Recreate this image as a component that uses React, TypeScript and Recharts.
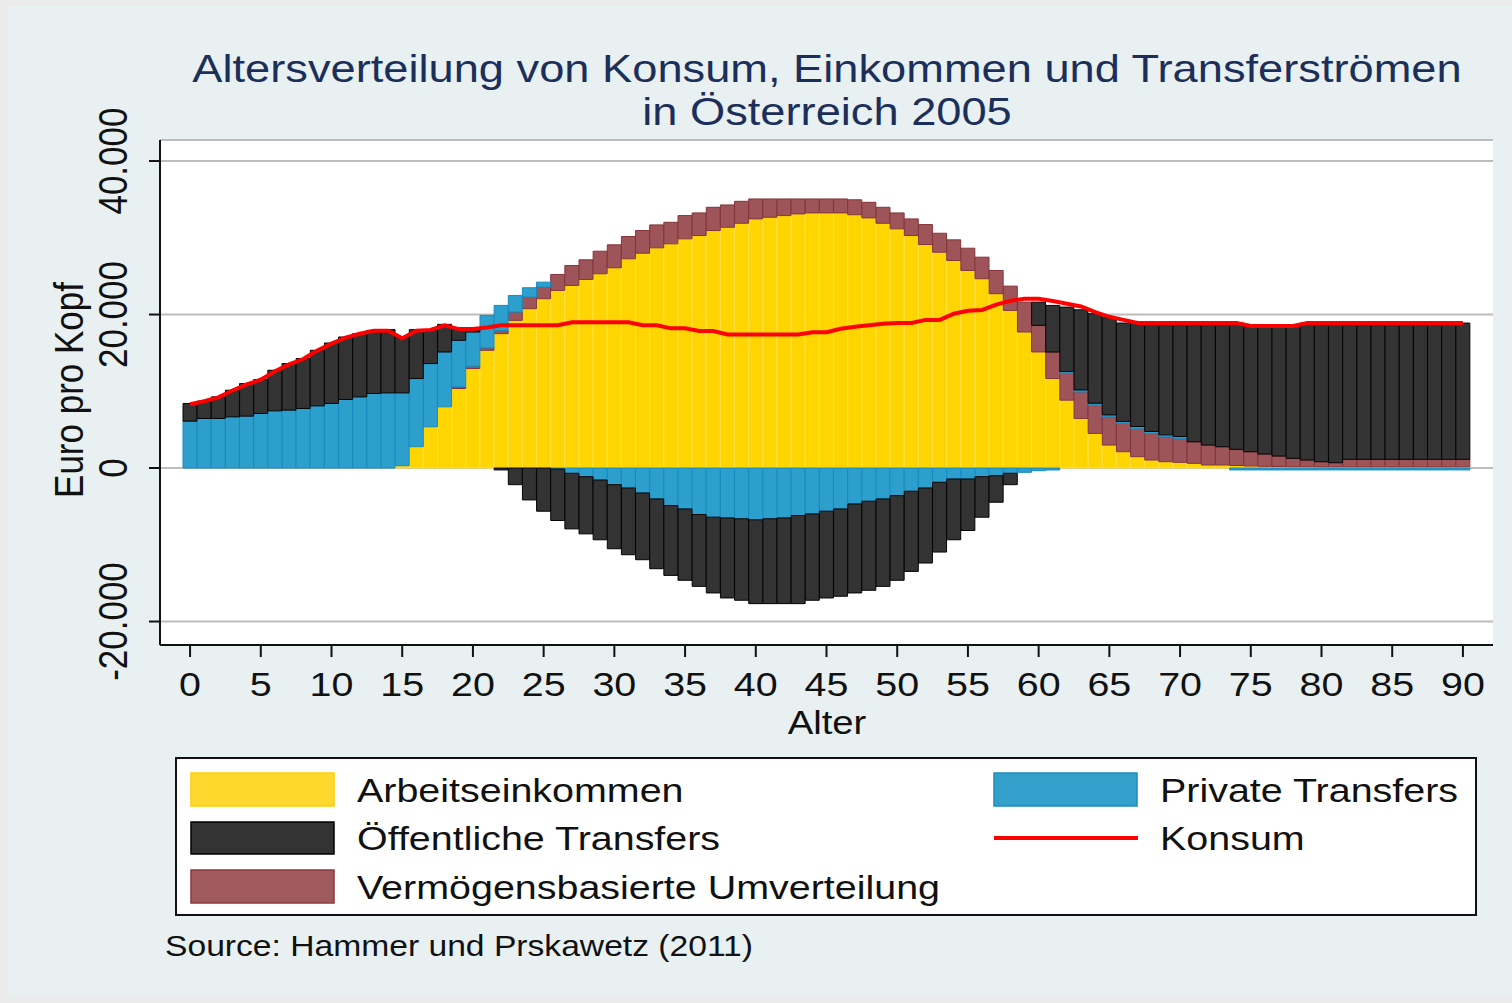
import { ComposedChart, Bar, Line, XAxis, YAxis, CartesianGrid } from 'recharts'

// Alter 0 bis 90
const ages = [
  0, 1, 2, 3, 4, 5, 6, 7, 8, 9, 10, 11, 12, 13, 14, 15, 16, 17, 18, 19, 20,
  21, 22, 23, 24, 25, 26, 27, 28, 29, 30, 31, 32, 33, 34, 35, 36, 37, 38, 39, 40,
  41, 42, 43, 44, 45, 46, 47, 48, 49, 50, 51, 52, 53, 54, 55, 56, 57, 58, 59, 60,
  61, 62, 63, 64, 65, 66, 67, 68, 69, 70, 71, 72, 73, 74, 75, 76, 77, 78, 79, 80,
  81, 82, 83, 84, 85, 86, 87, 88, 89, 90,
]

const arbeitseinkommen = [
  0, 0, 0, 0, 0, 0, 0, 0, 0, 0, 0, 0, 0, 0, 0, 300, 2770, 5370, 7970, 10360, 12960,
  15340, 17510, 19240, 20760, 22060, 23140, 23790, 24570, 25310, 26090, 27260, 27990, 28690, 29210, 29860,
  30290, 30940, 31370, 31890, 32460, 32670, 32890, 33110, 33240, 33240, 33240, 33000, 32590, 31890, 31160,
  30290, 29120, 28120, 27040, 25740, 24660, 22710, 20540, 17720, 15120, 11660, 8840, 6460, 4510, 2990,
  2120, 1470, 1040, 820, 740, 610, 390, 390, 330, 260, 220, 200, 180, 170, 150,
  150, 150, 150, 150, 150, 150, 150, 150, 150, 150,
]

const vermoegensbasiert = [
  0, 0, 0, 0, 0, 0, 0, 0, 0, 0, 0, 0, 0, 0, 0, 0, 0, 0, 0, 200, 300,
  300, 400, 1080, 1510, 1510, 2080, 2600, 2560, 2940, 2990, 2900, 2950, 2990, 2810, 3030,
  2950, 3030, 2910, 2860, 2600, 2390, 2170, 1950, 1820, 1820, 1820, 1950, 2030, 2080, 2080,
  2170, 2600, 2470, 2690, 2900, 2810, 3030, 3160, 3900, 3470, 3460, 3470, 3460, 3680, 3680,
  3690, 3690, 3470, 3250, 3120, 2810, 2600, 2380, 2100, 1860, 1600, 1360, 1080, 870, 670,
  540, 980, 980, 980, 980, 980, 980, 980, 980, 980,
]

const privateTransfers = [
  6110, 6460, 6460, 6670, 6760, 7110, 7450, 7540, 7760, 8100, 8410, 8930, 9270, 9710, 9790, 9490, 8890, 8240, 7150, 6080, 4460,
  4250, 3280, 2170, 1220, 650, -130, -690, -1130, -1560, -2170, -2600, -3250, -4030, -4890, -5330,
  -6060, -6410, -6500, -6620, -6750, -6620, -6500, -6190, -5980, -5630, -5330, -4680, -4330, -4030, -3590,
  -3030, -2600, -1860, -1430, -1430, -1130, -1000, -690, -560, -350, -260, 250, 250, 250, 250,
  250, 250, 250, 250, 250, 0, 0, 0, -250, -250, -250, -250, -250, -250, -250,
  -250, -250, -250, -250, -250, -250, -250, -250, -250, -250,
]

const oeffentlicheTransfers = [
  2300, 2250, 2810, 3470, 4240, 4420, 5290, 6070, 6500, 7240, 7880, 8140, 8240, 8230, 8240, 7280, 6370, 4420, 3600, 1490, 310,
  0, -250, -2170, -4160, -5630, -6710, -7240, -7450, -7790, -8350, -8700, -8700, -9090, -9100, -9300,
  -9360, -9870, -10430, -10610, -10920, -11050, -11170, -11480, -11250, -11300, -11380, -11600, -11600, -11390, -11040,
  -10440, -9780, -9090, -7920, -6710, -5280, -3460, -1480, 0, 3030, 6070, 8410, 10450, 11670, 12670,
  12830, 13480, 14130, 14570, 14780, 15470, 15900, 16120, 16460, 16380, 16680, 16940, 17240, 17850, 18070,
  18200, 17760, 17760, 17760, 17760, 17760, 17760, 17760, 17760, 17760,
]

const konsum = [
  8300, 8700, 9200, 10100, 10900, 11500, 12600, 13500, 14200, 15300, 16200, 17000, 17500, 17900, 17900, 16900, 17900, 18000, 18600, 18100, 18100,
  18300, 18600, 18600, 18600, 18600, 18600, 19000, 19000, 19000, 19000, 19000, 18600, 18600, 18200, 18200,
  17850, 17850, 17400, 17400, 17400, 17400, 17400, 17400, 17700, 17700, 18150, 18400, 18600, 18800, 18900,
  18900, 19300, 19300, 20100, 20500, 20600, 21300, 21800, 22050, 22050, 21750, 21400, 21050, 20300, 19700,
  19300, 18900, 18900, 18900, 18900, 18900, 18900, 18900, 18900, 18500, 18500, 18500, 18500, 18900, 18900,
  18900, 18900, 18900, 18900, 18900, 18900, 18900, 18900, 18900, 18900,
]

const yTicks = [-20000, 0, 20000, 40000]

const data = ages.map((age, i) => ({
  age,
  arbeit: arbeitseinkommen[i],
  verm: vermoegensbasiert[i],
  privat: privateTransfers[i],
  oeff: oeffentlicheTransfers[i],
  konsum: konsum[i],
}))

const FONT = '"Liberation Sans", Arial, Helvetica, sans-serif'
const SX = 1.16

const fmt = (v: number) => {
  const s = Math.abs(v).toString().replace(/\B(?=(\d{3})+(?!\d))/g, '.')
  return v < 0 ? '-' + s : s
}

function XTick(props: any) {
  const { x, payload } = props
  return (
    <text transform={`translate(${x},696) scale(${SX},1)`} textAnchor="middle" fontSize={34} fill="#111" fontFamily={FONT}>
      {payload.value}
    </text>
  )
}

function YTick(props: any) {
  const { y, payload } = props
  return (
    <text transform={`translate(127,${y}) scale(${SX},1) rotate(-90)`} textAnchor="middle" fontSize={35} fill="#111" fontFamily={FONT}>
      {fmt(payload.value)}
    </text>
  )
}

function T({ x, y, size, anchor = 'start', fill = '#111', rot = 0, children }: any) {
  return (
    <text
      transform={`translate(${x},${y}) scale(${SX},1)${rot ? ` rotate(${rot})` : ''}`}
      textAnchor={anchor}
      fontSize={size}
      fill={fill}
      fontFamily={FONT}
    >
      {children}
    </text>
  )
}

export default function App() {
  return (
    <div style={{ position: 'absolute', left: 0, top: 0, width: 1512, height: 1003, background: '#ebebeb', overflow: 'hidden' }}>
      <div style={{ position: 'absolute', left: 8, top: 6, width: 1504, height: 990, background: '#e8f0f2' }} />
      <div style={{ position: 'absolute', left: 0, top: 0 }}>
        <ComposedChart
          width={1512}
          height={760}
          data={data}
          stackOffset="sign"
          barCategoryGap={0}
          barGap={0}
          margin={{ top: 140, right: 19, bottom: 0, left: 0 }}
        >
          <CartesianGrid vertical={false} stroke="#bdbdbd" strokeWidth={2} fill="#ffffff" />
          <XAxis
            dataKey="age"
            interval={4}
            height={115}
            padding={{ left: 23, right: 23 }}
            axisLine={{ stroke: '#111', strokeWidth: 2 }}
            tickLine={{ stroke: '#111', strokeWidth: 2 }}
            tickSize={12}
            tick={(p: any) => <XTick {...p} />}
          />
          <YAxis
            type="number"
            width={160}
            domain={[-23060, 42740]}
            ticks={yTicks}
            allowDataOverflow
            axisLine={{ stroke: '#111', strokeWidth: 2 }}
            tickLine={{ stroke: '#111', strokeWidth: 2 }}
            tickSize={11}
            tick={(p: any) => <YTick {...p} />}
          />
          <Bar dataKey="arbeit" stackId="a" fill="#ffd500" stroke="#ffdf45" strokeWidth={1} isAnimationActive={false} />
          <Bar dataKey="verm" stackId="a" fill="#9e5559" stroke="#85343a" strokeWidth={1} isAnimationActive={false} />
          <Bar dataKey="privat" stackId="a" fill="#2d9fcc" stroke="#168bbf" strokeWidth={1} isAnimationActive={false} />
          <Bar dataKey="oeff" stackId="a" fill="#333333" stroke="#050505" strokeWidth={1} isAnimationActive={false} />
          <Line dataKey="konsum" type="linear" stroke="#ff0000" strokeWidth={4} dot={false} isAnimationActive={false} />
        </ComposedChart>
      </div>
      <svg width={1512} height={1003} style={{ position: 'absolute', left: 0, top: 0, pointerEvents: 'none' }}>
        <T x={827} y={82} size={39} anchor="middle" fill="#1c2f5a">Altersverteilung von Konsum, Einkommen und Transferströmen</T>
        <T x={827} y={125} size={39} anchor="middle" fill="#1c2f5a">in Österreich 2005</T>
        <T x={83} y={390} size={35} anchor="middle" rot={-90}>Euro pro Kopf</T>
        <T x={827} y={734} size={33} anchor="middle">Alter</T>

        <rect x={176} y={758} width={1300} height={157} fill="#ffffff" stroke="#111" strokeWidth={2} />
        <rect x={191} y={773} width={143} height={33} fill="#ffd82e" stroke="#ffcf00" strokeWidth={1.5} />
        <rect x={191} y={822} width={143} height={32} fill="#333333" stroke="#000" strokeWidth={1.5} />
        <rect x={191} y={870} width={143} height={33} fill="#a05a5e" stroke="#8b3a40" strokeWidth={1.5} />
        <rect x={994} y={773} width={143} height={33} fill="#33a0cb" stroke="#1b8cc0" strokeWidth={1.5} />
        <line x1={994} x2={1138} y1={838} y2={838} stroke="#ff0000" strokeWidth={4} />
        <T x={357} y={802} size={34}>Arbeitseinkommen</T>
        <T x={357} y={850} size={34}>Öffentliche Transfers</T>
        <T x={357} y={899} size={34}>Vermögensbasierte Umverteilung</T>
        <T x={1160} y={802} size={34}>Private Transfers</T>
        <T x={1160} y={850} size={34}>Konsum</T>

        <T x={165} y={956} size={29}>Source: Hammer und Prskawetz (2011)</T>
      </svg>
    </div>
  )
}
